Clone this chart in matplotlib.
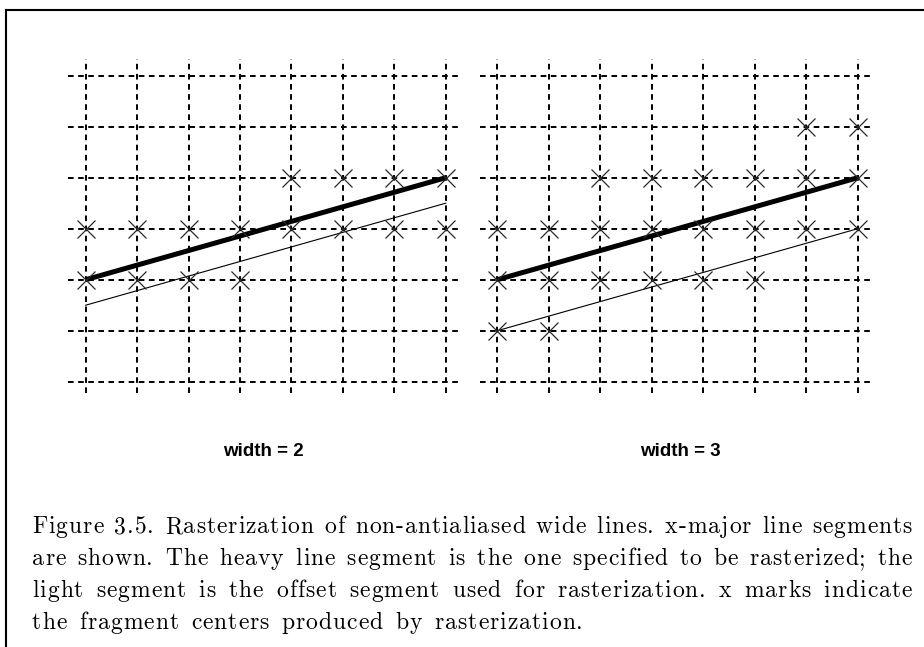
import matplotlib
matplotlib.use("Agg")
import matplotlib.pyplot as plt
from matplotlib.lines import Line2D

W, H, DPI = 924, 647, 100

# ---- data ----
cols = [0, 1, 2, 3, 4, 5, 6, 7]
rows = [0, 1, 2, 3, 4, 5, 6]

titles = ["width = 2", "width = 3"]

heavy_x = [0, 7]
heavy_y = [2, 4]
light_w2_y = [1.5, 3.5]
light_w3_y = [1, 3]

w2_mark_x = [4, 5, 6, 7, 0, 1, 2, 3, 4, 5, 6, 7, 0, 1, 2, 3]
w2_mark_y = [4, 4, 4, 4, 3, 3, 3, 3, 3, 3, 3, 3, 2, 2, 2, 2]

w3_mark_x = [6, 7, 2, 3, 4, 5, 6, 7, 0, 1, 2, 3, 4, 5, 6, 7, 0, 1, 2, 3, 4, 5, 0, 1]
w3_mark_y = [5, 5, 4, 4, 4, 4, 4, 4, 3, 3, 3, 3, 3, 3, 3, 3, 2, 2, 2, 2, 2, 2, 1, 1]

caption_lines = [
    "Figure 3.5. Rasterization of non-antialiased wide lines. x-major line segments",
    "are shown. The heavy line segment is the one specified to be rasterized; the",
    "light segment is the offset segment used for rasterization. x marks indicate",
    "the fragment centers produced by rasterization.",
]

# ---- figure ----
fig = plt.figure(figsize=(W / DPI, H / DPI), dpi=DPI)
fig.patch.set_facecolor("white")


def px_axes(l, r, t, b):
    ax = fig.add_axes([l / W, 1 - b / H, (r - l) / W, (b - t) / H])
    ax._px = (l, r, t, b)
    return ax


def draw_grid(ax, col0, unit_x, light_y, mx, my):
    row0, unit_y = 381.7, 51.0
    l, r, t, b = ax._px
    ax.set_xlim((l - col0) / unit_x, (r - col0) / unit_x)
    ax.set_ylim(-(b - row0) / unit_y, (row0 - t) / unit_y)
    ax.axis("off")
    dash = (0, (2.9, 2.3))
    ax.hlines(rows, -0.344, 7.26, colors="black", linewidth=1.4,
              linestyles=[dash], zorder=1)
    ax.vlines(cols, -0.22, 6.33, colors="black", linewidth=1.4,
              linestyles=[dash], zorder=1)
    ax.plot(heavy_x, heavy_y, color="black", linewidth=3.6,
            solid_capstyle="butt", zorder=3)
    ax.plot(heavy_x, light_y, color="black", linewidth=0.8, zorder=3)
    ax.plot(mx, my, linestyle="none", marker="x", markersize=13.5,
            markeredgewidth=0.9, color="#2a2a2a", zorder=4)


axL = px_axes(55, 470, 45, 410)
draw_grid(axL, 85.7, 51.43, light_w2_y, w2_mark_x, w2_mark_y)

axR = px_axes(472, 890, 45, 410)
draw_grid(axR, 497.3, 51.49, light_w3_y, w3_mark_x, w3_mark_y)

# titles
for xc, txt in zip([263, 680], titles):
    fig.text(xc / W, 1 - 451 / H, txt, ha="center", va="center",
             fontsize=13.5, fontweight="bold", family="Liberation Sans")

# border (cropped on right/bottom)
fig.add_artist(Line2D([6 / W, 1.01], [1 - 10 / H, 1 - 10 / H],
                      transform=fig.transFigure, color="black", linewidth=1.5))
fig.add_artist(Line2D([6 / W, 6 / W], [-0.01, 1 - 10 / H],
                      transform=fig.transFigure, color="black", linewidth=1.5))

# caption: letter-spaced, justified
renderer = fig.canvas.get_renderer()
cap_fs = 17.0
track = 1.0
left_px, right_px = 32, 912
baselines = [533, 565, 597, 629]
_probe = fig.text(0, 0, "", fontsize=cap_fs, family="cmr10")


def text_w(s):
    _probe.set_text(s)
    return _probe.get_window_extent(renderer).width if s else 0.0


def word_layout(word):
    offs = [text_w(word[:k]) + k * track for k in range(len(word))]
    total = text_w(word) + (len(word) - 1) * track
    return offs, total


space_w = text_w("a a") - text_w("aa")
for i, (line, yb) in enumerate(zip(caption_lines, baselines)):
    words = line.split(" ")
    layouts = [word_layout(w) for w in words]
    widths = [lw for _, lw in layouts]
    if i < len(caption_lines) - 1:
        gap = (right_px - left_px - sum(widths)) / (len(words) - 1)
    else:
        gap = space_w * 1.6
    x = left_px
    for w, (offs, wdt) in zip(words, layouts):
        for ch, o in zip(w, offs):
            fig.text((x + o) / W, 1 - yb / H, ch, fontsize=cap_fs,
                     family="cmr10", va="baseline", ha="left")
        x += wdt + gap
_probe.remove()

fig.savefig("out.png", dpi=DPI, facecolor="white")
